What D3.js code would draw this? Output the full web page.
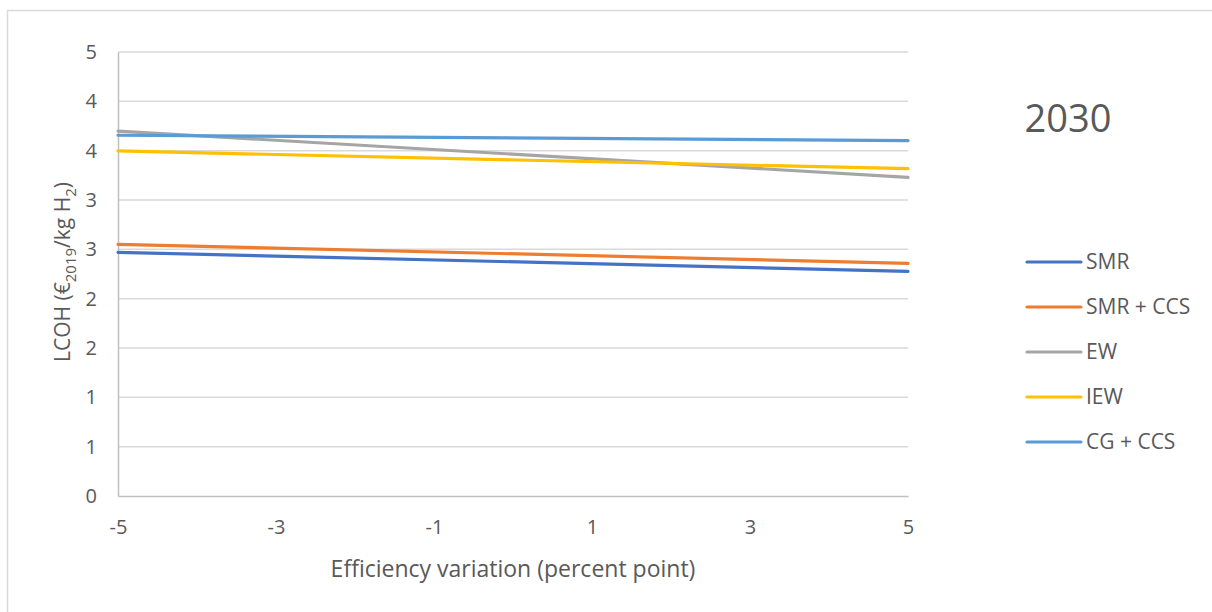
<!DOCTYPE html>
<html>
<head>
<meta charset="utf-8">
<script src="https://cdn.jsdelivr.net/npm/d3@7"></script>
<style>
  body { margin: 0; background: #fff; }
  svg text { font-family: "Open Sans", sans-serif; fill: #595959; }
</style>
</head>
<body>
<svg id="chart" width="1212" height="612"></svg>
<script>
'use strict';
// efficiency variation (percent point)
const xValues = [-5, 5];
const seriesNames = ["SMR", "SMR + CCS", "EW", "IEW", "CG + CCS"];
const seriesColors = ["#4472c4", "#ed7d31", "#a5a5a5", "#ffc000", "#5b9bd5"];
// LCOH values read at x = -5 and x = 5
const smr = [2.47, 2.277];
const smrCcs = [2.551, 2.358];
const ew = [3.699, 3.23];
const iew = [3.497, 3.317];
const cgCcs = [3.656, 3.601];
const yTicks = [0, 0.5, 1, 1.5, 2, 2.5, 3, 3.5, 4, 4.5];
const xTicks = [-5, -3, -1, 1, 3, 5];
const yearLabel = "2030";

const allSeries = [smr, smrCcs, ew, iew, cgCcs];

const svg = d3.select("#chart");
const margin = {left: 118, right: 304, top: 52, bottom: 116};
const W = 1212, H = 612;

// outer frame
svg.append("rect")
    .attr("x", 7.5).attr("y", 10.5)
    .attr("width", W + 10).attr("height", H + 10)
    .attr("fill", "none").attr("stroke", "#d9d9d9").attr("stroke-width", 1.5);

const xs = d3.scaleLinear().domain([-5, 5]).range([margin.left, W - margin.right]);
const ys = d3.scaleLinear().domain([0, 4.5]).range([H - margin.bottom, margin.top]);

// gridlines
svg.append("g").selectAll("line")
    .data(yTicks.filter(d => d > 0))
    .enter().append("line")
        .attr("x1", xs(-5)).attr("x2", xs(5))
        .attr("y1", d => ys(d)).attr("y2", d => ys(d))
        .attr("stroke", "#d9d9d9").attr("stroke-width", 1.5);

// axes (excel rounds the 0.5 steps to whole numbers)
const yAxis = svg.append("g")
    .attr("transform", `translate(${xs(-5)},0)`)
    .call(d3.axisLeft(ys).tickValues(yTicks).tickSize(0).tickPadding(21)
        .tickFormat(d => Math.round(d + 1e-9)));
yAxis.select(".domain").attr("stroke", "#bfbfbf").attr("stroke-width", 1.5);
yAxis.selectAll("text").style("font-size", "20px");

const xAxis = svg.append("g")
    .attr("transform", `translate(0,${ys(0)})`)
    .call(d3.axisBottom(xs).tickValues(xTicks).tickSize(0).tickPadding(24)
        .tickFormat(d => d < 0 ? "-" + Math.abs(d) : d));
xAxis.select(".domain").attr("stroke", "#bfbfbf").attr("stroke-width", 1.5);
xAxis.selectAll("text").style("font-size", "20px");

// series lines
const line = d3.line()
    .x((d, i) => xs(xValues[i]))
    .y(d => ys(d));
svg.append("g").selectAll("path")
    .data(allSeries)
    .enter().append("path")
        .attr("fill", "none")
        .attr("stroke", (d, i) => seriesColors[i])
        .attr("stroke-width", 3.2)
        .attr("stroke-linecap", "round")
        .attr("d", d => line(d));

// axis titles
svg.append("text")
    .attr("x", (xs(-5) + xs(5)) / 2).attr("y", 577)
    .attr("text-anchor", "middle")
    .style("font-size", "23px")
    .text("Efficiency variation (percent point)");

const yt = svg.append("text")
    .attr("transform", `translate(70,${(ys(0) + ys(4.5)) / 2 - 2}) rotate(-90)`)
    .attr("text-anchor", "middle")
    .style("font-size", "21px");
yt.append("tspan").text("LCOH (€");
yt.append("tspan").attr("dy", 6).style("font-size", "15px").text("2019");
yt.append("tspan").attr("dy", -6).text("/kg H");
yt.append("tspan").attr("dy", 6).style("font-size", "15px").text("2");
yt.append("tspan").attr("dy", -6).text(")");

// year label
svg.append("text")
    .attr("x", 1068).attr("y", 132)
    .attr("text-anchor", "middle")
    .style("font-size", "38px")
    .text(yearLabel);

// legend
const lg = svg.append("g").selectAll("g")
    .data(seriesNames)
    .enter().append("g")
        .attr("transform", (d, i) => `translate(1027,${262 + i * 45})`);
lg.append("line")
    .attr("x1", 0).attr("x2", 54)
    .attr("stroke", (d, i) => seriesColors[i])
    .attr("stroke-width", 3.2)
    .attr("stroke-linecap", "round");
lg.append("text")
    .attr("x", 59).attr("dy", "0.35em")
    .style("font-size", "21px")
    .text(d => d);
</script>
</body>
</html>
